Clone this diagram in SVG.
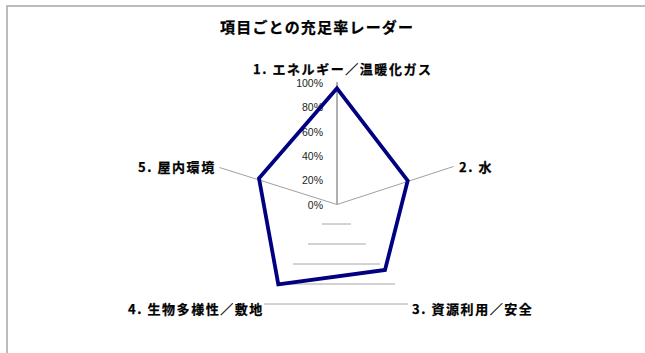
<svg xmlns="http://www.w3.org/2000/svg" width="645" height="353" viewBox="0 0 645 353">
<style>
.frame{stroke:#a6a6a6;stroke-width:1.5;fill:none}
.spoke{stroke:#a0a0a0;stroke-width:1;fill:none}
.axis{stroke:#606060;stroke-width:1;fill:none}
.hl{stroke:#a6a6a6;stroke-width:1;fill:none}
.series{stroke:#000080;stroke-width:3.8;fill:none;stroke-linejoin:miter}
.pct{font-family:"Liberation Sans",Arial,sans-serif;font-size:10.5px;fill:#222;text-anchor:end}
.cat{font-family:"Noto Sans CJK JP","Noto Sans CJK SC",sans-serif;font-size:13px;font-weight:bold;fill:#000;letter-spacing:1.55px;stroke:#000;stroke-width:0.25}
.title{font-family:"Noto Sans CJK JP","Noto Sans CJK SC",sans-serif;font-size:15px;font-weight:bold;fill:#000;letter-spacing:1.2px;stroke:#000;stroke-width:0.25}
</style>
<rect x="0" y="0" width="645" height="353" fill="#ffffff"/>
<g id="frame">
<path class="frame" d="M7,353 V6 H645"/>
</g>
<text id="title" class="title" x="220" y="33">項目ごとの充足率レーダー</text>
<g id="grid">
<line class="axis" x1="337" y1="82" x2="337" y2="204.5"/>
<line class="spoke" x1="337" y1="204.5" x2="453.5" y2="166.5"/>
<line class="spoke" x1="337" y1="204.5" x2="219.5" y2="167.5"/>
<line class="hl" x1="322" y1="224" x2="351" y2="224"/>
<line class="hl" x1="308" y1="244" x2="366" y2="244"/>
<line class="hl" x1="293" y1="264" x2="380" y2="264"/>
<line class="hl" x1="278" y1="284" x2="395" y2="284"/>
<line class="hl" x1="264" y1="304" x2="408" y2="304"/>
</g>
<g id="ticks">
<text class="pct" x="323" y="86.5">100%</text>
<text class="pct" x="323" y="110.5">80%</text>
<text class="pct" x="323" y="135.5">60%</text>
<text class="pct" x="323" y="160">40%</text>
<text class="pct" x="323" y="184">20%</text>
<text class="pct" x="323" y="209">0%</text>
</g>
<g id="series">
<polygon class="series" points="337,88.3 407.7,180.7 385,270 278.3,284.3 259,178.3"/>
</g>
<g id="cat1"><text class="cat" x="253" y="73.5">1. エネルギー／温暖化ガス</text></g>
<g id="cat2"><text class="cat" x="459" y="171.5">2. 水</text></g>
<g id="cat3"><text class="cat" x="412" y="314">3. 資源利用／安全</text></g>
<g id="cat4"><text class="cat" x="128" y="314">4. 生物多様性／敷地</text></g>
<g id="cat5"><text class="cat" x="138" y="171.5">5. 屋内環境</text></g>
</svg>
